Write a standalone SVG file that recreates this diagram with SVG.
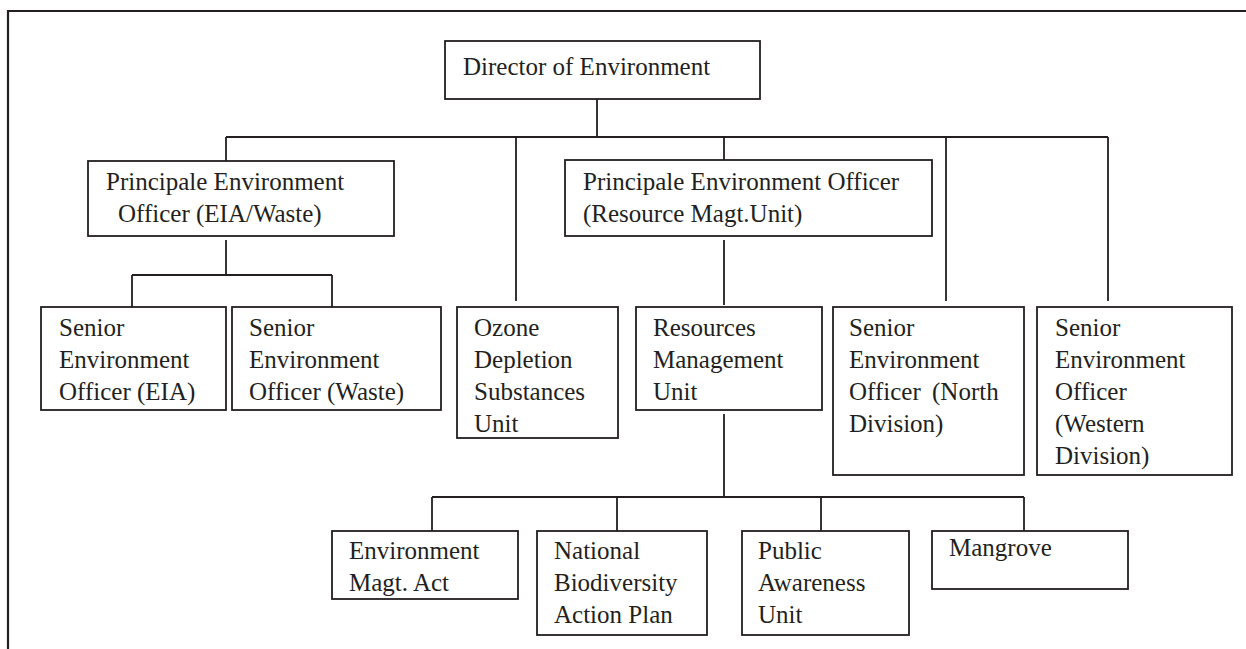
<svg xmlns="http://www.w3.org/2000/svg" width="1246" height="649" viewBox="0 0 1246 649">
<style>
.box{fill:#fff;stroke:#231f20;stroke-width:1.8}
.ln{fill:none;stroke:#231f20;stroke-width:1.8}
.frame{fill:none;stroke:#231f20;stroke-width:2.2}
text{font-family:"Liberation Serif","Times New Roman",serif;font-size:25px;fill:#231f20}
</style>
<rect width="1246" height="649" fill="#fff"/>
<path class="frame" d="M8,649 V11 H1246"/>
<g id="connectors">
<path class="ln" d="M597,99 V137 M226,137 H1108 M226,137 V161 M516,137 V301 M724,137 V160 M946,137 V301 M1108,137 V301"/>
<path class="ln" d="M226,240 V275 M132,275 H332 M132,275 V307 M332,275 V307"/>
<path class="ln" d="M724,240 V305 M724,414 V497 M432,497 H1024 M432,497 V531 M617,497 V531 M821,497 V531 M1024,497 V531"/>
</g>
<g id="director">
<rect class="box" x="445" y="41" width="315" height="58"/>
<text x="463" y="75">Director of Environment</text>
</g>
<g id="peo-eia">
<rect class="box" x="88" y="161" width="306" height="75"/>
<text x="106" y="190">Principale Environment</text>
<text x="118" y="222">Officer (EIA/Waste)</text>
</g>
<g id="peo-res">
<rect class="box" x="565" y="160" width="367" height="76"/>
<text x="583" y="190">Principale Environment Officer</text>
<text x="583" y="222">(Resource Magt.Unit)</text>
</g>
<g id="seo-eia">
<rect class="box" x="41" y="307" width="185" height="103"/>
<text x="59" y="336">Senior</text>
<text x="59" y="368">Environment</text>
<text x="59" y="400">Officer (EIA)</text>
</g>
<g id="seo-waste">
<rect class="box" x="232" y="307" width="209" height="103"/>
<text x="249" y="336">Senior</text>
<text x="249" y="368">Environment</text>
<text x="249" y="400">Officer (Waste)</text>
</g>
<g id="ozone">
<rect class="box" x="457" y="307" width="161" height="131"/>
<text x="474" y="336">Ozone</text>
<text x="474" y="368">Depletion</text>
<text x="474" y="400">Substances</text>
<text x="474" y="432">Unit</text>
</g>
<g id="res-mgmt">
<rect class="box" x="636" y="307" width="186" height="103"/>
<text x="653" y="336">Resources</text>
<text x="653" y="368">Management</text>
<text x="653" y="400">Unit</text>
</g>
<g id="seo-north">
<rect class="box" x="833" y="307" width="191" height="168"/>
<text x="849" y="336">Senior</text>
<text x="849" y="368">Environment</text>
<text x="849" y="400">Officer<tspan x="932">(North</tspan></text>
<text x="849" y="432">Division)</text>
</g>
<g id="seo-western">
<rect class="box" x="1037" y="307" width="195" height="168"/>
<text x="1055" y="336">Senior</text>
<text x="1055" y="368">Environment</text>
<text x="1055" y="400">Officer</text>
<text x="1055" y="432">(Western</text>
<text x="1055" y="464">Division)</text>
</g>
<g id="env-act">
<rect class="box" x="332" y="531" width="186" height="68"/>
<text x="349" y="559">Environment</text>
<text x="349" y="591">Magt. Act</text>
</g>
<g id="nbap">
<rect class="box" x="537" y="531" width="170" height="104"/>
<text x="554" y="559">National</text>
<text x="554" y="591">Biodiversity</text>
<text x="554" y="623">Action Plan</text>
</g>
<g id="public-awareness">
<rect class="box" x="742" y="531" width="167" height="104"/>
<text x="758" y="559">Public</text>
<text x="758" y="591">Awareness</text>
<text x="758" y="623">Unit</text>
</g>
<g id="mangrove">
<rect class="box" x="932" y="531" width="196" height="58"/>
<text x="949" y="556">Mangrove</text>
</g>
</svg>
